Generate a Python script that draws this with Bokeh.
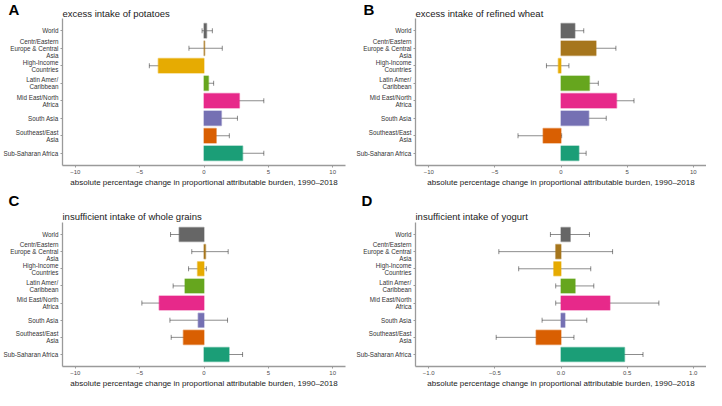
from bokeh.plotting import figure
from bokeh.models import (ColumnDataSource, FactorRange, Range1d, FixedTicker,
                          Whisker, TeeHead, Title)
from bokeh.layouts import column, row
from bokeh.embed import file_html
from bokeh.resources import INLINE

regions = ["World", "Centr/Eastern\nEurope & Central\nAsia", "High-Income\nCountries",
           "Latin Amer/\nCaribbean", "Mid East/North\nAfrica", "South Asia",
           "Southeast/East\nAsia", "Sub-Saharan Africa"]
colors = ["#666666", "#A6761D", "#E6AB02", "#66A61E", "#E7298A", "#7570B3", "#D95F02", "#1B9E77"]

potatoes_val = [0.2, 0.05, -3.55, 0.35, 2.75, 1.35, 0.95, 3.0]
potatoes_lo = [-0.15, -1.17, -4.25, 0.1, 1.5, 0.1, 0.52, 1.87]
potatoes_hi = [0.65, 1.42, -2.8, 0.75, 4.65, 2.6, 1.97, 4.65]

wheat_val = [1.05, 2.65, -0.2, 2.15, 4.2, 2.1, -1.35, 1.35]
wheat_lo = [0.3, 1.4, -1.1, 1.57, 2.97, 0.8, -3.25, 0.8]
wheat_hi = [1.72, 4.15, 0.6, 2.82, 5.52, 3.42, 0.05, 1.9]

grains_val = [-1.93, 0.12, -0.5, -1.48, -3.48, -0.45, -1.6, 1.95]
grains_lo = [-2.6, -0.95, -1.2, -2.4, -4.83, -2.65, -2.55, 1.0]
grains_hi = [-1.33, 1.88, 0.18, -0.7, -2.5, 1.83, -0.7, 3.0]

yogurt_val = [0.07, -0.04, -0.055, 0.107, 0.37, 0.03, -0.188, 0.48]
yogurt_lo = [-0.08, -0.47, -0.32, -0.04, -0.04, -0.143, -0.49, 0.343]
yogurt_hi = [0.215, 0.39, 0.225, 0.248, 0.74, 0.195, 0.098, 0.62]

ticks_big = [-10, -5, 0, 5, 10]
ticklabels_big = ["\u221210", "\u22125", "0", "5", "10"]
ticks_small = [-1.0, -0.5, 0.0, 0.5, 1.0]
ticklabels_small = ["\u22121.0", "\u22120.5", "0.0", "0.5", "1.0"]

xlabel = "absolute percentage change in proportional attributable burden, 1990\u20132018"
FONT = "Liberation Sans"


def panel(letter, title, vals, lo, hi, xlim, ticks, ticklabels, width, height,
          b_left, b_right, b_top, b_bottom, letter_offset, inline_letter):
    src = ColumnDataSource(dict(cat=regions, val=vals, lo=lo, hi=hi, color=colors))
    p = figure(width=width, height=height, output_backend="svg", toolbar_location=None,
               y_range=FactorRange(factors=list(reversed(regions)), range_padding=0.2,
                                   range_padding_units="absolute"),
               x_range=Range1d(*xlim),
               min_border_left=b_left, min_border_right=b_right,
               min_border_top=b_top, min_border_bottom=b_bottom)
    p.hbar(y="cat", left=0, right="val", height=0.82, source=src,
           fill_color="color", line_color="color", line_alpha=0.45, line_width=1.5)
    head_kw = dict(size=5, line_color="black", line_alpha=0.45, line_width=1)
    p.add_layout(Whisker(source=src, base="cat", lower="lo", upper="hi", dimension="width",
                         line_color="black", line_alpha=0.45, line_width=1,
                         lower_head=TeeHead(**head_kw), upper_head=TeeHead(**head_kw)))
    p.grid.visible = False
    p.outline_line_color = None

    p.xaxis.ticker = FixedTicker(ticks=ticks)
    p.xaxis.major_label_overrides = {t: l for t, l in zip(ticks, ticklabels)}
    p.xaxis.axis_label = xlabel
    for ax in (p.xaxis[0], p.yaxis[0]):
        ax.axis_line_color = "#9a9a9a"
        ax.axis_line_width = 1.3
        ax.major_tick_line_color = "#9a9a9a"
        ax.major_tick_out = 2
        ax.major_tick_in = 0
        ax.minor_tick_line_color = None
        ax.major_label_text_font = FONT
        ax.major_label_text_color = "#4d4d4d"
        ax.major_label_standoff = 2
    p.xaxis.major_label_text_font_size = "6px"
    p.xaxis.axis_label_text_font = FONT
    p.xaxis.axis_label_text_font_size = "8px"
    p.xaxis.axis_label_text_font_style = "normal"
    p.xaxis.axis_label_text_color = "#1a1a1a"
    p.xaxis.axis_label_standoff = 1
    p.yaxis.major_label_text_font_size = "6.3px"
    p.yaxis.major_label_text_line_height = 1.0
    p.yaxis.major_label_text_color = "#333333"

    sub_kw = dict(text=title, align="left", text_font=FONT, text_font_size="9.5px",
                  text_font_style="normal", text_color="#1a1a1a")
    let_kw = dict(text=letter, align="left", offset=letter_offset, text_font=FONT,
                  text_font_size="15px", text_font_style="bold", text_color="black")
    if inline_letter:
        p.add_layout(Title(vertical_align="top", standoff=-4, **sub_kw), "above")
        p.add_layout(Title(vertical_align="bottom", standoff=-16, **let_kw), "above")
    else:
        p.add_layout(Title(vertical_align="bottom", standoff=2, **sub_kw), "above")
        p.add_layout(Title(vertical_align="bottom", standoff=-2, **let_kw), "above")
    return p


pa = panel("A", "excess intake of potatoes", potatoes_val, potatoes_lo, potatoes_hi,
           (-11, 11), ticks_big, ticklabels_big, 353, 190, 54, 8, 18, 25, -54, True)
pb = panel("B", "excess intake of refined wheat", wheat_val, wheat_lo, wheat_hi,
           (-11, 11), ticks_big, ticklabels_big, 353, 190, 62, 0, 18, 25, -52, True)
pc = panel("C", "insufficient intake of whole grains", grains_val, grains_lo, grains_hi,
           (-11, 11), ticks_big, ticklabels_big, 353, 200, 54, 8, 32, 22, -54, False)
pd = panel("D", "insufficient intake of yogurt", yogurt_val, yogurt_lo, yogurt_hi,
           (-1.1, 1.1), ticks_small, ticklabels_small, 353, 200, 62, 0, 32, 22, -54, False)

layout = column(row(pa, pb), row(pc, pd))
open("out.html", "w").write(file_html(layout, INLINE))
